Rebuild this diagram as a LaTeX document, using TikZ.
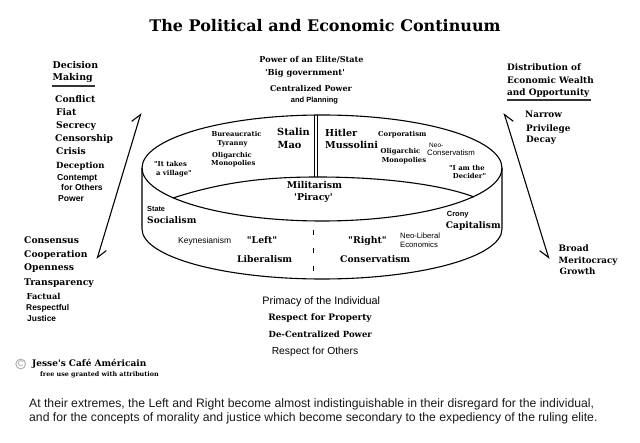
\documentclass[tikz,border=0pt]{standalone}
\usepackage{fontspec}
\newfontfamily\serf{DejaVu Serif}
\newfontfamily\sansf{Liberation Sans}
\usetikzlibrary{arrows.meta}
\newcommand{\fsz}[1]{\fontsize{#1}{#1}\selectfont}
\tikzset{
  ser/.style={font=\serf\bfseries\fsz{#1}, inner sep=0pt},
  ser/.default=9,
  sansb/.style={font=\sansf\bfseries\fsz{#1}, inner sep=0pt},
  sansb/.default=8.5,
  sansr/.style={font=\sansf\fsz{#1}, inner sep=0pt},
  sansr/.default=8,
  lw/.style={anchor=mid west},
  cyl/.style={line width=1.1pt, black},
  barbL/.style={{Straight Barb[harpoon,length=9pt,width=13pt]}-{Straight Barb[harpoon,length=9pt,width=13pt]}},
  barbR/.style={{Straight Barb[harpoon,swap,length=9pt,width=13pt]}-{Straight Barb[harpoon,swap,length=9pt,width=13pt]}}
}
\begin{document}
\begin{tikzpicture}[x=1pt,y=-1pt]
\useasboundingbox (0,0) rectangle (640,443);
\fill[white] (0,0) rectangle (640,443);

% title
\node[ser=16, anchor=mid] (title) at (325,29) {The Political and Economic Continuum};

% cylinder
\draw[cyl] (322,168) ellipse [x radius=180pt, y radius=53pt];
\draw[cyl] (142,168) -- (142,229) arc[start angle=180, end angle=360, x radius=180pt, y radius=50pt] -- (502,168);
\draw[cyl] (173,198) .. controls (225,181) and (270,177) .. (318,177) .. controls (380,177) and (440,184) .. (474,197);
\draw[line width=0.9pt] (314.5,115) -- (314.5,177.5);
\draw[line width=0.9pt] (317.8,115) -- (317.8,177.5);
\draw[line width=1pt, dash pattern=on 5pt off 13pt] (313,230) -- (313,277);

% top centre
\node[ser=8.1, anchor=mid] (pow) at (311.5,60.5) {Power of an Elite/State};
\node[ser=8.3, anchor=mid] (big) at (305,73) {'Big government'};
\node[ser=8, anchor=mid] (cent) at (311,89) {Centralized Power};
\node[sansb=7.5, anchor=mid] (plan) at (314.5,100) {and Planning};

% left column
\node[ser=9.4, lw] (dec1) at (52.5,66) {Decision};
\node[ser=9.4, lw] (dec2) at (52.5,78.5) {Making};
\draw[line width=1.1pt, black!80] (52,86) -- (95,86);
\node[ser=9.2, lw] (l1) at (55,100.5) {Conflict};
\node[ser=9.2, lw] (l2) at (56,113) {Fiat};
\node[ser=9.2, lw] (l3) at (56,126.5) {Secrecy};
\node[ser=9.2, lw] (l4) at (55,139.5) {Censorship};
\node[ser=9.2, lw] (l5) at (56,152.5) {Crisis};
\node[ser=8.5, lw] (l6) at (56,166) {Deception};
\node[sansb=8.6, lw] (l7) at (57,178) {Contempt};
\node[sansb=8.6, lw] (l8) at (61,188) {for Others};
\node[sansb=8.6, lw] (l9) at (58,199) {Power};

\node[ser=9.2, lw] (m1) at (24,241.5) {Consensus};
\node[ser=9.2, lw] (m2) at (24,255.5) {Cooperation};
\node[ser=9.2, lw] (m3) at (24,268.5) {Openness};
\node[ser=9.2, lw] (m4) at (24,283) {Transparency};
\node[ser=8.2, lw] (m5) at (26.5,297) {Factual};
\node[sansb=8.4, lw] (m6) at (26,308) {Respectful};
\node[sansb=8.4, lw] (m7) at (27,319) {Justice};

% right column
\node[ser=8.9, lw] (r1) at (507,68) {Distribution of};
\node[ser=8.9, lw] (r2) at (507,81) {Economic Wealth};
\node[ser=8.9, lw] (r3) at (507,93) {and Opportunity};
\draw[line width=1.1pt, black!80] (507,100) -- (591,100);
\node[ser=8.9, lw] (r4) at (525,115.5) {Narrow};
\node[ser=8.9, lw] (r5) at (526,129) {Privilege};
\node[ser=8.9, lw] (r6) at (526,140) {Decay};
\node[ser=8.9, lw] (r7) at (558.5,249) {Broad};
\node[ser=8.7, lw] (r8) at (558.5,261.5) {Meritocracy};
\node[ser=8.7, lw] (r9) at (559.5,272) {Growth};

% arrows
\coordinate (la1) at (97,259);
\coordinate (la2) at (141,113);
\draw[line width=1.1pt, barbL] (la1) -- (la2);
\coordinate (ra1) at (549,259);
\coordinate (ra2) at (504,113);
\draw[line width=1.1pt, barbR] (ra1) -- (ra2);

% inside top ellipse
\node[ser=6.8, anchor=mid] (bur) at (236.5,134) {Bureaucratic};
\node[ser=6.8, anchor=mid] (tyr) at (232.5,143.3) {Tyranny};
\node[ser=6.8, anchor=mid] (olg1) at (232,155) {Oligarchic};
\node[ser=6.8, anchor=mid] (mon1) at (233.3,163.3) {Monopolies};
\node[ser=9.8, lw] (stalin) at (277,133) {Stalin};
\node[ser=9.8, lw] (mao) at (277.5,146) {Mao};
\node[ser=9.6, lw] (hitler) at (325,134) {Hitler};
\node[ser=9.6, lw] (muss) at (325,146) {Mussolini};
\node[ser=6.9, lw] (corp) at (378,134) {Corporatism};
\node[ser=6.8, anchor=mid] (olg2) at (400.5,151.7) {Oligarchic};
\node[ser=6.8, anchor=mid] (mon2) at (404,160.7) {Monopolies};
\node[sansr=6.5, lw] (neo) at (429,145) {Neo-};
\node[sansr=7.8, lw] (ncons) at (427,153.3) {Conservatism};
\node[ser=6.8, lw] (iam) at (449,168.3) {"I am the};
\node[ser=6.8, lw] (decid) at (452.7,176.7) {Decider"};
\node[ser=6.8, lw] (ittak) at (154,164) {"It takes};
\node[ser=6.8, lw] (vill) at (156,173.3) {a village"};
\node[ser=9.4, anchor=mid] (milit) at (314.5,186) {Militarism};
\node[ser=9.4, anchor=mid] (pir) at (313.5,198) {'Piracy'};

% front face
\node[sansb=7.3, lw] (state) at (147,209.3) {State};
\node[ser=9.1, lw] (soc) at (147,221.7) {Socialism};
\node[sansr=8.5, lw] (keyn) at (178,241) {Keynesianism};
\node[ser=9.3, lw] (left) at (246.7,241.7) {"Left"};
\node[ser=9.2, lw] (lib) at (237,260) {Liberalism};
\node[sansb=7.5, lw] (crony) at (446.7,214.3) {Crony};
\node[ser=9.1, lw] (cap) at (445.7,226.7) {Capitalism};
\node[sansr=7.7, lw] (nlib) at (400,236.7) {Neo-Liberal};
\node[sansr=7.7, lw] (econ) at (400,245.7) {Economics};
\node[ser=9.3, lw] (right) at (348,241.7) {"Right"};
\node[ser=9.2, lw] (cons) at (340,260) {Conservatism};

% bottom centre
\node[sansr=10.8, anchor=mid] (prim) at (321.3,302.7) {Primacy of the Individual};
\node[ser=8.9, anchor=mid] (rprop) at (320,318.3) {Respect for Property};
\node[ser=8.5, anchor=mid] (decen) at (320.3,335) {De-Centralized Power};
\node[sansr=10.3, anchor=mid] (roth) at (315,352.7) {Respect for Others};

% copyright
\node[circle, draw=black!30, line width=1pt, inner sep=0.6pt, text=black!40, font=\sansf\fsz{8}] (copy) at (20.7,364) {C};
\node[ser=9, lw] (jesse) at (32,364) {Jesse's Café Américain};
\node[ser=6.4, lw] (free) at (40,374) {free use granted with attribution};

% caption
\node[sansr=12.2, lw, text=black!90] (cap1) at (29,405) {At their extremes, the Left and Right become almost indistinguishable in their disregard for the individual,};
\node[sansr=12.2, lw, text=black!90] (cap2) at (29,419.5) {and for the concepts of morality and justice which become secondary to the expediency of the ruling elite.};
\end{tikzpicture}
\end{document}
